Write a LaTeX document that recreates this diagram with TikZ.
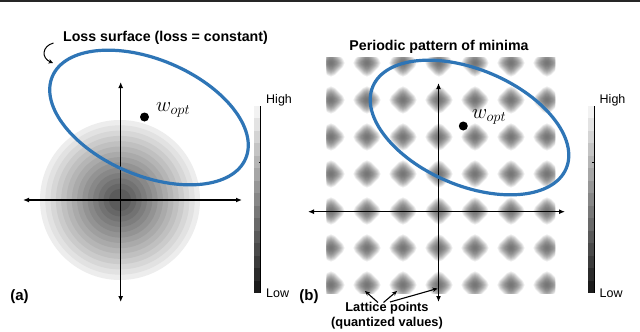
\documentclass[tikz,border=0pt]{standalone}
\usepackage{fontspec}
\setmainfont{Liberation Sans}
\usetikzlibrary{arrows.meta}
\definecolor{ellblue}{RGB}{46,117,182}
\begin{document}
\begin{tikzpicture}[x=1pt,y=-1pt,
  axis/.style={line width=1.5pt,{Latex[length=6pt,width=5pt]}-{Latex[length=6pt,width=5pt]}},
  lossell/.style={draw=ellblue,line width=3.2pt},
  optdot/.style={circle,fill=black,inner sep=0pt,minimum size=9pt},
  ttl/.style={font=\fontsize{14.2}{16}\selectfont\bfseries,inner sep=0pt},
  panel/.style={font=\fontsize{15}{17}\selectfont\bfseries,inner sep=0pt},
  lbl/.style={font=\fontsize{12.5}{14}\selectfont,inner sep=0pt},
  latt/.style={font=\fontsize{12.8}{15}\selectfont\bfseries,inner sep=0pt},
  wlab/.style={font=\fontsize{20}{23}\selectfont,inner sep=0pt},
  ptr/.style={line width=1.1pt,-{Stealth[length=5pt,width=4.5pt]}}
]
\useasboundingbox (0,0) rectangle (640,332);
\fill[white] (0,0) rectangle (640,332);
\draw[line width=1.5pt,black!85] (0,0.75) -- (640,0.75);

% ---------- panel (a): shaded bowl ----------
\foreach \k in {0,...,13} {
  \pgfmathsetmacro\rr{80-\k*5.3}
  \pgfmathsetmacro\dd{7+\k*4.4}
  \fill[black!\dd] (120,200) circle[radius=\rr pt];
}

% ---------- panel (b): periodic lattice ----------
\begin{scope}
\clip (326.5,57) rectangle (555,293);
\foreach \i in {0,...,6} {
  \foreach \j in {0,...,6} {
    \foreach \r in {15,14,...,1} {
      \pgfmathsetmacro\dd{54*(1-(\r/16)^2)}
      \pgfmathsetmacro\a{\r*0.75}
      \pgfmathsetmacro\rc{0.5*\a}
      \pgfmathsetmacro\cx{331+36*\i}
      \pgfmathsetmacro\cy{63+37*\j}
      \fill[black!\dd,rotate around={45:(\cx,\cy)},rounded corners=\rc pt]
        (\cx-\a,\cy-\a) rectangle (\cx+\a,\cy+\a);
    }
  }
}
\end{scope}

% ---------- colour bars ----------
\foreach \cx/\nm in {254/ca,587.5/cb} {
  \foreach \k in {0,...,14} {
    \pgfmathsetmacro\dd{5+\k*6}
    \fill[black!\dd] (\cx,106+\k*12.47) rectangle (\cx+6.5,106+\k*12.47+12.6);
  }
  \draw[line width=0.8pt] (\cx+6.5,106) -- (\cx+6.5,293);
  \draw[line width=0.6pt] (\cx+6.5,162) -- (\cx+4.5,162);
  \node[lbl,anchor=west] (\nm-high) at (\cx+12,100) {High};
  \node[lbl,anchor=west] (\nm-low) at (\cx+12,293) {Low};
}

% ---------- axes ----------
\coordinate (axl) at (23,200);   \coordinate (axr) at (242,200);
\coordinate (ayt) at (120.7,82); \coordinate (ayb) at (120.7,302);
\draw[axis] (axl) -- (axr);
\draw[axis] (ayt) -- (ayb);
\coordinate (bxl) at (308,211.7); \coordinate (bxr) at (565,211.7);
\coordinate (byt) at (438.5,83);  \coordinate (byb) at (438.5,302);
\draw[axis] (bxl) -- (bxr);
\draw[axis] (byt) -- (byb);

% ---------- loss ellipses ----------
\draw[lossell,rotate around={-23:(149,117.5)}] (149,117.5) ellipse[x radius=105pt,y radius=58pt];
\draw[lossell,rotate around={-23:(469.5,127.5)}] (469.5,127.5) ellipse[x radius=105pt,y radius=58pt];

% ---------- optimum points ----------
\node[optdot] (wa) at (144.5,117) {};
\node[wlab,anchor=base west] (wa-lab) at (156,111) {$w_{opt}$};
\node[optdot] (wb) at (463.3,126) {};
\node[wlab,anchor=base west] (wb-lab) at (472,118.5) {$w_{opt}$};

% ---------- titles ----------
\node[ttl] (ta) at (165.5,38) {Loss surface (loss = constant)};
\node[ttl] (tb) at (439,46.7) {Periodic pattern of minima};
\coordinate (ca1) at (53.5,43);
\coordinate (ca2) at (53,63);
\draw[line width=1pt,-{Stealth[length=4.5pt,width=4.5pt]}] (ca1) .. controls (42,46) and (41,58) .. (ca2);

% ---------- panel labels ----------
\node[panel] (pa) at (19.5,296.5) {(a)};
\node[panel] (pb) at (309,296.5) {(b)};

% ---------- lattice points annotation ----------
\node[latt] (lp) at (387,308) {Lattice points};
\node[latt] (qv) at (387,323.5) {(quantized values)};
\coordinate (lp1) at (378,302.5);
\coordinate (lp2) at (383.5,302.5);
\coordinate (lp3) at (390,302);
\coordinate (lt1) at (365,291);
\coordinate (lt2) at (397,291);
\coordinate (lt3) at (437.5,288.5);
\draw[ptr] (lp1) -- (lt1);
\draw[ptr] (lp2) -- (lt2);
\draw[ptr] (lp3) -- (lt3);
\end{tikzpicture}
\end{document}
